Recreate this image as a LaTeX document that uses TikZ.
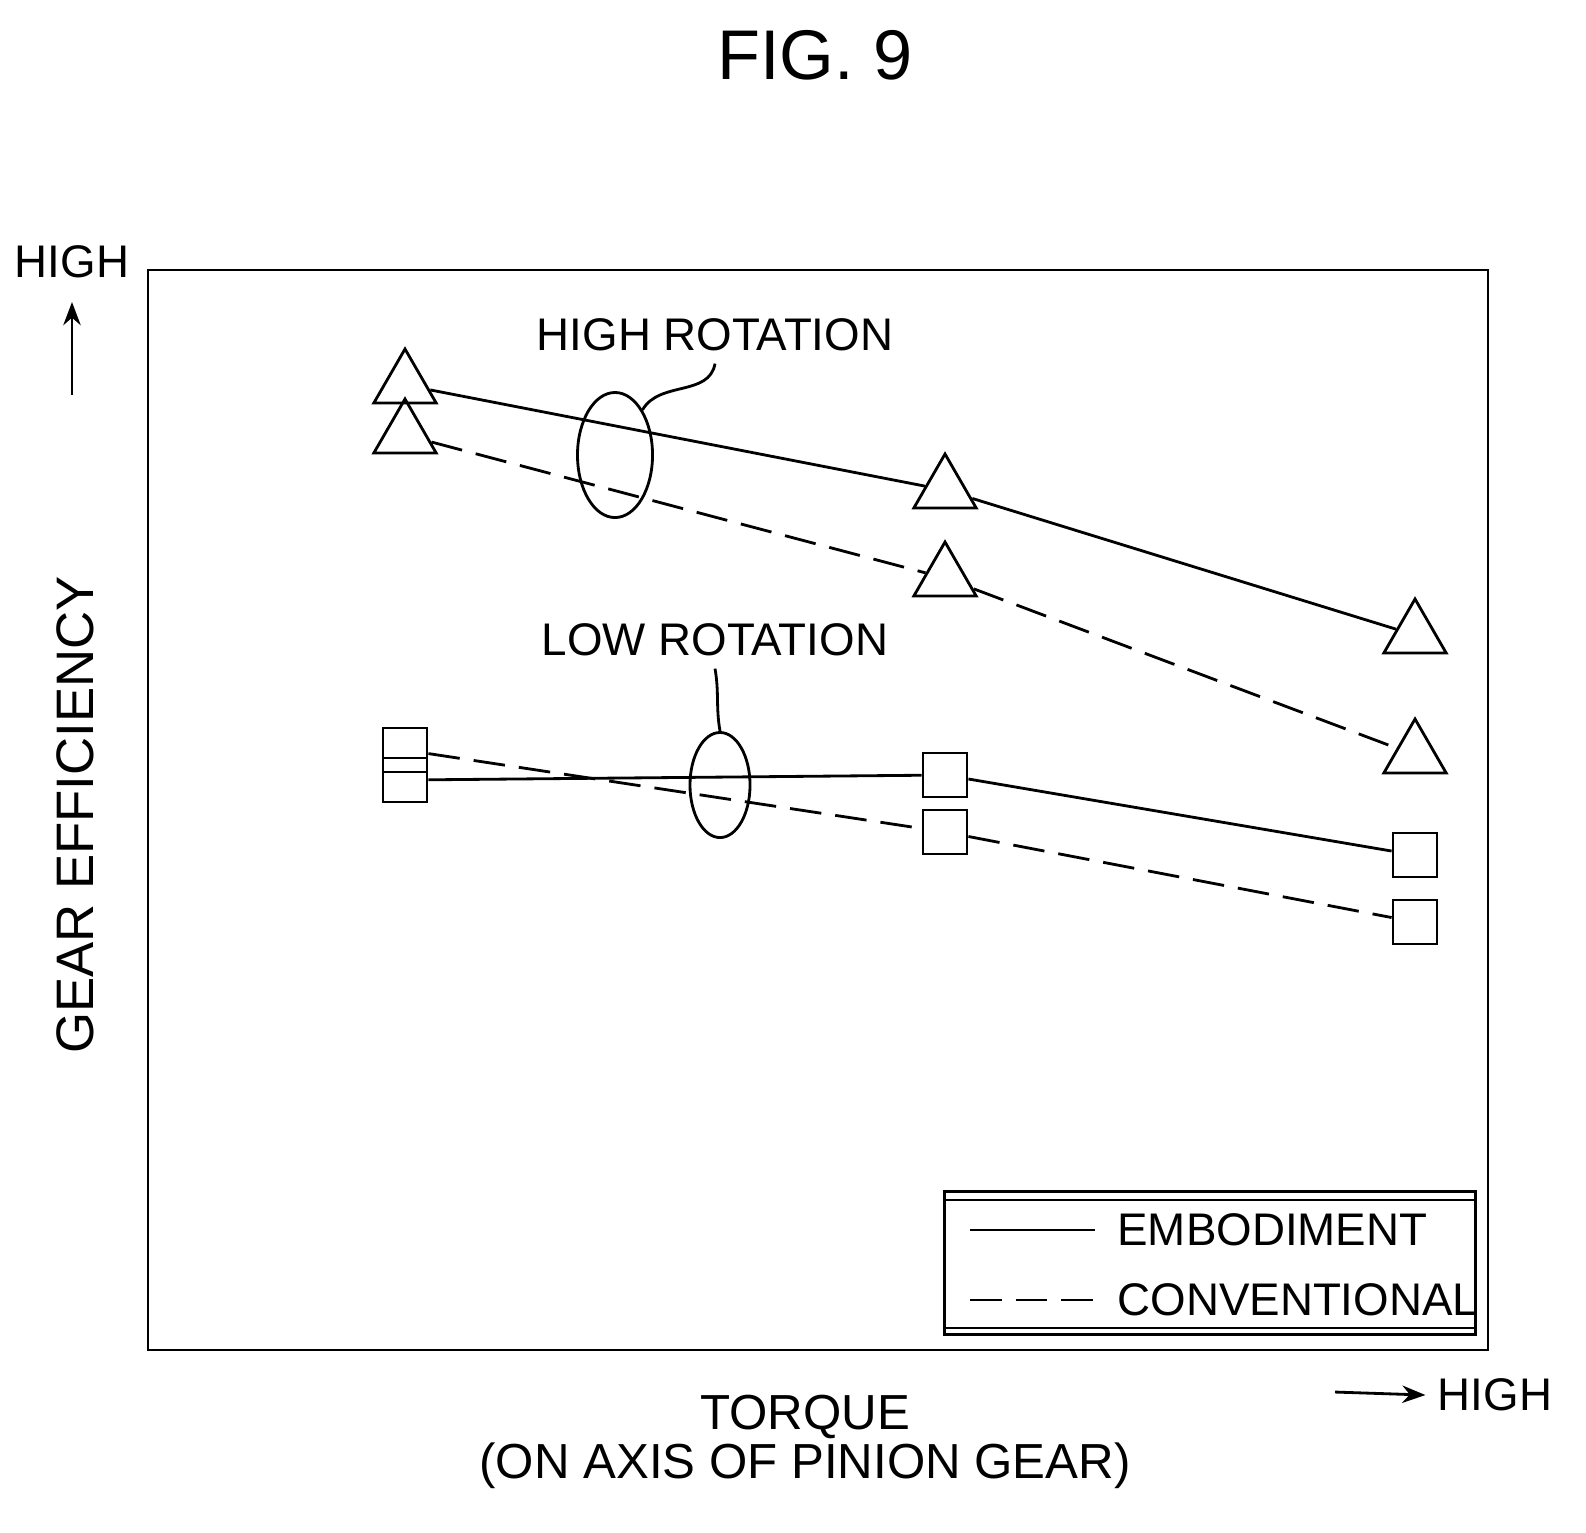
\documentclass[tikz,border=0pt]{standalone}
\usepackage{fontspec}
\setmainfont{Liberation Sans}
\usetikzlibrary{positioning, shapes.geometric, arrows.meta, decorations.pathmorphing}

\begin{document}
\begin{tikzpicture}[
  x=0.01cm, y=-0.01cm,
  >=Stealth,
  every node/.style={font=\fontsize{13}{15}\selectfont},
  tri/.style={draw, thick, regular polygon, regular polygon sides=3, minimum size=0.72cm, inner sep=0pt},
  sq/.style={draw, thick, minimum size=0.44cm, inner sep=0pt},
  emb/.style={thick},
  conv/.style={thick, dash pattern=on 9pt off 4pt}
]
\useasboundingbox (0,0) rectangle (1586,1532);

% Title
\node[font=\fontsize{20}{24}\selectfont] (title) at (815,55) {FIG. 9};

% Frame
\draw[thick] (148,270) rectangle (1488,1350);

% Axes labels
\node (yhigh) at (72,262) {HIGH};
\coordinate (ytail) at (72,395);
\coordinate (yhead) at (72,302);
\draw[->, thick] (ytail) -- (yhead);
\node[rotate=90, font=\fontsize{15}{18}\selectfont] (ylabel) at (75,815) {GEAR EFFICIENCY};
\node[align=center, font=\fontsize{14}{14}\selectfont] (xlabel) at (805,1442) {TORQUE\\(ON AXIS OF PINION GEAR)};
\node (xhigh) at (1495,1395) {HIGH};
\coordinate (xtail) at (1335,1392);
\draw[->, thick] (xtail) -- (xhigh.west);

% High rotation
\node[tri] (he1) at (405,385) {};
\node[tri] (he2) at (945,490) {};
\node[tri] (he3) at (1415,635) {};
\node[tri] (hc1) at (405,435) {};
\node[tri] (hc2) at (945,578) {};
\node[tri] (hc3) at (1415,755) {};
\draw[emb] (he1) -- (he2) -- (he3);
\draw[conv] (hc1) -- (hc2) -- (hc3);

% Low rotation
\node[sq] (le1) at (405,780) {};
\node[sq] (le2) at (945,775) {};
\node[sq] (le3) at (1415,855) {};
\node[sq] (lc1) at (405,750) {};
\node[sq] (lc2) at (945,832) {};
\node[sq] (lc3) at (1415,922) {};
\draw[emb] (le1) -- (le2) -- (le3);
\draw[conv] (lc1) -- (lc2) -- (lc3);

% Rotation labels
\node[ellipse, draw, thick, minimum width=0.75cm, minimum height=1.25cm] (hring) at (615,455) {};
\node (hlabel) at (715,335) {HIGH ROTATION};
\draw[thick] (hring.north east) to[out=60, in=-100] (hlabel.south);
\node[ellipse, draw, thick, minimum width=0.6cm, minimum height=1.05cm] (lring) at (720,785) {};
\node (llabel) at (715,640) {LOW ROTATION};
\draw[thick] (lring.north) to[out=100, in=-80] (llabel.south);

% Legend
\node[draw, thick, minimum width=5.3cm, minimum height=1.43cm] (legend) at (1210,1263) {};
\draw[thick] (945,1200) rectangle (1475,1328);
\coordinate (l1a) at (970,1230);
\coordinate (l1b) at (1095,1230);
\coordinate (l2a) at (970,1300);
\coordinate (l2b) at (1095,1300);
\draw[emb] (l1a) -- (l1b);
\draw[conv] (l2a) -- (l2b);
\node[anchor=west] (lemb) at (1105,1230) {EMBODIMENT};
\node[anchor=west] (lconv) at (1105,1300) {CONVENTIONAL};
\end{tikzpicture}
\end{document}
